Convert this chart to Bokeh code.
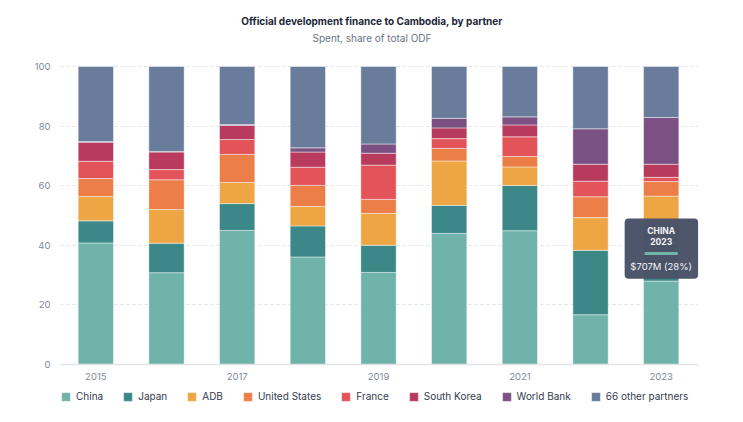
from bokeh.plotting import figure
from bokeh.models import (Range1d, FixedTicker, Legend, LegendItem, Label,
                          BoxAnnotation, ColumnDataSource)
from bokeh.embed import file_html
from bokeh.resources import INLINE

# Share of total ODF (%) by partner, per year
years = [2015, 2016, 2017, 2018, 2019, 2020, 2021, 2022, 2023]
partners = ["China", "Japan", "ADB", "United States", "France",
            "South Korea", "World Bank", "66 other partners"]

china = [40.8, 30.8, 45.0, 36.1, 30.9, 44.0, 44.9, 16.7, 28.0]
japan = [7.4, 9.9, 9.0, 10.4, 9.1, 9.4, 15.2, 21.6, 12.5]
adb = [8.2, 11.3, 7.1, 6.5, 10.7, 14.9, 6.2, 11.0, 16.0]
united_states = [6.0, 10.0, 9.4, 7.1, 4.7, 4.2, 3.5, 7.0, 4.9]
france = [5.8, 3.4, 5.0, 6.1, 11.5, 3.3, 6.6, 5.2, 1.4]
south_korea = [6.4, 5.9, 4.7, 5.1, 4.0, 3.6, 4.0, 5.7, 4.4]
world_bank = [0.2, 0.2, 0.3, 1.4, 3.1, 3.2, 2.7, 11.9, 15.7]
others = [25.2, 28.5, 19.5, 27.3, 26.0, 17.4, 16.9, 20.9, 17.1]

colors = ["#70b3aa", "#3c8787", "#eea543", "#ec7e48", "#e2545a",
          "#b83a5c", "#7a5182", "#697c9b"]

x_ticks = [2015, 2017, 2019, 2021, 2023]
y_ticks = [0, 20, 40, 60, 80, 100]

# Highlighted point for the tooltip card
tip_partner = "CHINA"
tip_year = 2023
tip_amount = "$707M"

FONT = "Inter"
W, H = 743, 422
PX = 2.98          # pixels per percentage point on the y axis
HEADER = 66        # room above the 100% line for the heading
FOOTER = 38        # room below the 0% line for year labels and the legend
BOTTOM = 20        # side panel kept for the (relocated) x axis

keys = ["china", "japan", "adb", "us", "france", "korea", "wb", "others"]
source = ColumnDataSource(dict(year=years, china=china, japan=japan, adb=adb,
                               us=united_states, france=france,
                               korea=south_korea, wb=world_bank, others=others))

p = figure(width=W, height=H, output_backend="svg", toolbar_location=None,
           title=None,
           x_range=Range1d(2014.5, 2023.528),
           y_range=Range1d(-FOOTER / PX, 100 + HEADER / PX),
           min_border_left=60, min_border_right=45, min_border_top=0,
           min_border_bottom=BOTTOM)
p.outline_line_color = None
p.background_fill_color = "white"
p.border_fill_color = "white"

renderers = p.vbar_stack(keys, x="year", width=0.5, source=source,
                         color=colors, line_color="white", line_alpha=0.45,
                         line_width=1)

# Axes: the x axis is drawn along the 0% line
p.xaxis.ticker = FixedTicker(ticks=x_ticks)
p.yaxis.ticker = FixedTicker(ticks=y_ticks)
for ax in (p.xaxis, p.yaxis):
    ax.major_tick_line_color = None
    ax.minor_tick_line_color = None
    ax.major_label_text_font = FONT
    ax.major_label_text_font_size = "9.5px"
    ax.major_label_text_color = "#808898"
p.yaxis.axis_line_color = None
p.yaxis.major_label_standoff = 4
p.xaxis.fixed_location = 0
p.xaxis.axis_line_color = "#e2e4e8"
p.xaxis.axis_line_width = 1.5
p.xaxis.major_label_standoff = 2

p.xgrid.grid_line_color = None
p.ygrid.grid_line_color = "#dfe1e5"
p.ygrid.grid_line_dash = "3 3"

# Heading, centred on the page (positions relative to the frame's bottom-left)
frame_h = H - BOTTOM
p.add_layout(Label(x=W / 2 - 60, y=frame_h - 20, x_units="screen",
                   y_units="screen",
                   text="Official development finance to Cambodia, by partner",
                   text_align="center", text_baseline="middle",
                   text_font=FONT, text_font_style="bold",
                   text_font_size="10px", text_color="#1c2638"))
p.add_layout(Label(x=W / 2 - 60, y=frame_h - 37, x_units="screen",
                   y_units="screen",
                   text="Spent, share of total ODF",
                   text_align="center", text_baseline="middle",
                   text_font=FONT, text_font_size="10px",
                   text_color="#6b7385"))

# Legend under the plot
legend = Legend(items=[LegendItem(label=name, renderers=[r])
                       for name, r in zip(partners, renderers)],
                orientation="horizontal", location=(0, 0),
                glyph_width=11, glyph_height=11, label_standoff=5,
                spacing=19, padding=0, margin=0, label_height=12,
                label_text_font=FONT, label_text_font_size="10px",
                label_text_color="#333b4d", border_line_color=None,
                background_fill_alpha=0)
p.add_layout(legend, "center")

# Tooltip card for the highlighted bar
ci = years.index(tip_year)
base = china[ci]
card = BoxAnnotation(left=tip_year - 0.517, right=tip_year + 0.523,
                     bottom=base + 0.8, top=base + 21.0,
                     fill_color="#4a5368", fill_alpha=0.98, line_color=None,
                     border_radius=4, level="overlay")
p.add_layout(card)
swatch = BoxAnnotation(left=tip_year - 0.235, right=tip_year + 0.235,
                       bottom=base + 26.0 / PX, top=base + 29.0 / PX,
                       fill_color=colors[0], fill_alpha=1, line_color=None,
                       level="overlay")
p.add_layout(swatch)
for text, off, style, size in [(tip_partner, 49.6, "bold", "8.5px"),
                               (str(tip_year), 39.8, "bold", "8.5px"),
                               (f"{tip_amount} ({round(base)}%)", 14.2,
                                "normal", "9.5px")]:
    p.add_layout(Label(x=tip_year, y=base, y_offset=off, text=text,
                       text_align="center", text_baseline="middle",
                       text_font=FONT, text_font_style=style,
                       text_font_size=size, text_color="#f2f4f7",
                       level="overlay"))

open("out.html", "w").write(file_html(p, INLINE))
